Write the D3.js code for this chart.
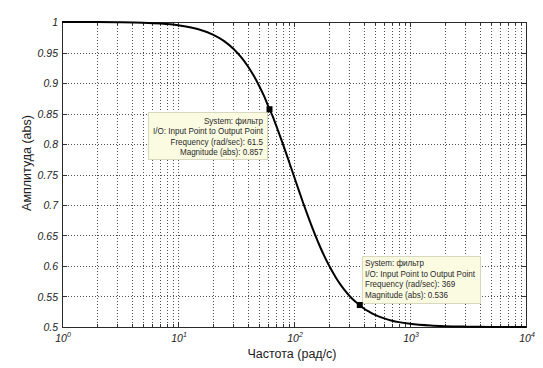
<!DOCTYPE html>
<html>
<head>
<meta charset="utf-8">
<script src="https://cdn.jsdelivr.net/npm/d3@7"></script>
<style>
  html, body { margin: 0; padding: 0; background: #fff; }
  svg { display: block; }
</style>
</head>
<body>
<svg id="chart" width="543" height="368"></svg>
<script>
// ---- data ----
const freqs = [1, 2, 3, 5, 7, 10, 15, 20, 25, 30, 35, 40, 45, 50, 55, 61.5, 65, 70, 75, 80, 85, 90, 100, 110, 120, 130, 150, 170, 200, 230, 250, 270, 300, 330, 369, 400, 450, 500, 600, 700, 800, 1000, 1500, 2000, 3000, 5000, 10000];
const mags  = [1.000, 0.9998, 0.9995, 0.9987, 0.9974, 0.9947, 0.9882, 0.9794, 0.9687, 0.9562, 0.9423, 0.9274, 0.9117, 0.8956, 0.8792, 0.857, 0.8468, 0.8309, 0.8155, 0.8007, 0.7863, 0.7726, 0.7471, 0.7240, 0.7033, 0.6849, 0.6538, 0.6291, 0.6011, 0.5808, 0.5703, 0.5617, 0.5513, 0.5433, 0.536, 0.5304, 0.5244, 0.5199, 0.5141, 0.5104, 0.5080, 0.5052, 0.5023, 0.5013, 0.5006, 0.5002, 0.5001];
const markerFreq = [61.5, 369];
const markerMag  = [0.857, 0.536];
const tipLines = [
  ["System: фильтр", "I/O: Input Point to Output Point", "Frequency (rad/sec): 61.5", "Magnitude (abs): 0.857"],
  ["System: фильтр", "I/O: Input Point to Output Point", "Frequency (rad/sec): 369", "Magnitude (abs): 0.536"]
];
const yTicks = [0.5, 0.55, 0.6, 0.65, 0.7, 0.75, 0.8, 0.85, 0.9, 0.95, 1];
const xDecades = [0, 1, 2, 3, 4];
const xLabel = "Частота (рад/с)";
const yLabel = "Амплитуда (abs)";

// ---- layout ----
const L = 62, T = 22, R = 526, B = 327;
const svg = d3.select("#chart");
const x = d3.scaleLog().domain([1, 1e4]).range([L, R]);
const y = d3.scaleLinear().domain([0.5, 1]).range([B, T]);
const font = "'Liberation Sans', Arial, sans-serif";

// minor values
const xMinor = [];
for (let d = 0; d < 4; d++) for (let m = 1; m <= 9; m++) xMinor.push(m * Math.pow(10, d));
xMinor.push(1e4);

// grid
const grid = svg.append("g").attr("stroke", "#505050").attr("stroke-width", 1)
  .attr("stroke-dasharray", "1,2").attr("shape-rendering", "crispEdges");
grid.selectAll("line.gx").data(xMinor.filter(v => v > 1 && v < 1e4)).enter().append("line")
  .attr("x1", d => Math.round(x(d)) + 0.5).attr("x2", d => Math.round(x(d)) + 0.5)
  .attr("y1", T).attr("y2", B);
grid.selectAll("line.gy").data(yTicks.filter(v => v > 0.5 && v < 1)).enter().append("line")
  .attr("y1", d => Math.round(y(d)) + 0.5).attr("y2", d => Math.round(y(d)) + 0.5)
  .attr("x1", L).attr("x2", R);

// ticks inside
const tk = svg.append("g").attr("stroke", "#333").attr("stroke-width", 1).attr("shape-rendering", "crispEdges");
xMinor.forEach(v => {
  const isMaj = xDecades.some(e => Math.abs(Math.pow(10, e) - v) < 1e-9);
  const len = isMaj ? 5 : 3;
  const px = Math.round(x(v)) + 0.5;
  tk.append("line").attr("x1", px).attr("x2", px).attr("y1", B).attr("y2", B - len);
  tk.append("line").attr("x1", px).attr("x2", px).attr("y1", T).attr("y2", T + len);
});
yTicks.forEach(v => {
  const py = Math.round(y(v)) + 0.5;
  tk.append("line").attr("x1", L).attr("x2", L + 5).attr("y1", py).attr("y2", py);
  tk.append("line").attr("x1", R).attr("x2", R - 5).attr("y1", py).attr("y2", py);
});

// frame
svg.append("rect").attr("x", L + 0.5).attr("y", T + 0.5).attr("width", R - L).attr("height", B - T)
  .attr("fill", "none").attr("stroke", "#2a2a2a").attr("stroke-width", 1).attr("shape-rendering", "crispEdges");

// y tick labels
svg.append("g").selectAll("text").data(yTicks).enter().append("text")
  .attr("x", L - 4).attr("y", d => y(d) + 4)
  .attr("text-anchor", "end").attr("font-family", font).attr("font-size", 10.5)
  .attr("font-style", "italic").attr("fill", "#222")
  .text(d => d3.format("")(d));

// x tick labels
const xl = svg.append("g").selectAll("text").data(xDecades).enter().append("text")
  .attr("x", d => x(Math.pow(10, d)) + 1).attr("y", 342)
  .attr("text-anchor", "middle").attr("font-family", font).attr("font-size", 10.5)
  .attr("font-style", "italic").attr("fill", "#222");
xl.append("tspan").text("10");
xl.append("tspan").attr("dy", -5).attr("font-size", 7).text(d => d);

// axis labels
svg.append("text").attr("x", 292).attr("y", 358).attr("text-anchor", "middle")
  .attr("font-family", font).attr("font-size", 12.5).attr("fill", "#222").text(xLabel);
svg.append("text").attr("transform", "translate(31,163) rotate(-90)").attr("text-anchor", "middle")
  .attr("font-family", font).attr("font-size", 12.5).attr("fill", "#222").text(yLabel);

// curve
const pts = freqs.map((f, i) => [f, mags[i]]);
svg.append("path").datum(pts)
  .attr("fill", "none").attr("stroke", "#000").attr("stroke-width", 2)
  .attr("d", d3.line().x(d => x(d[0])).y(d => y(d[1])).curve(d3.curveMonotoneX));

// data tips
const tipBoxes = [
  { x: 148, y: 112, w: 119, h: 47, anchor: "end", tx: 263, ty: 123.5 },
  { x: 362, y: 256, w: 118, h: 47, anchor: "start", tx: 365, ty: 266 }
];
tipBoxes.forEach((b, i) => {
  svg.append("rect").attr("x", b.x + 0.5).attr("y", b.y + 0.5).attr("width", b.w).attr("height", b.h)
    .attr("fill", "#fbfbe2").attr("stroke", "#d8d8c0").attr("stroke-width", 1);
  tipLines[i].forEach((line, j) => {
    svg.append("g").attr("transform", `translate(${b.tx},${b.ty + j * 10.6}) scale(0.87,1)`)
      .append("text").attr("x", 0).attr("y", 0).attr("text-anchor", b.anchor)
      .attr("font-family", font).attr("font-size", 9.3).attr("fill", "#2a2a2a").text(line);
  });
});

// markers
svg.append("g").selectAll("rect").data(markerFreq).enter().append("rect")
  .attr("x", (d) => x(d) - 3).attr("y", (d, i) => y(markerMag[i]) - 3)
  .attr("width", 6).attr("height", 6).attr("fill", "#000");
</script>
</body>
</html>
